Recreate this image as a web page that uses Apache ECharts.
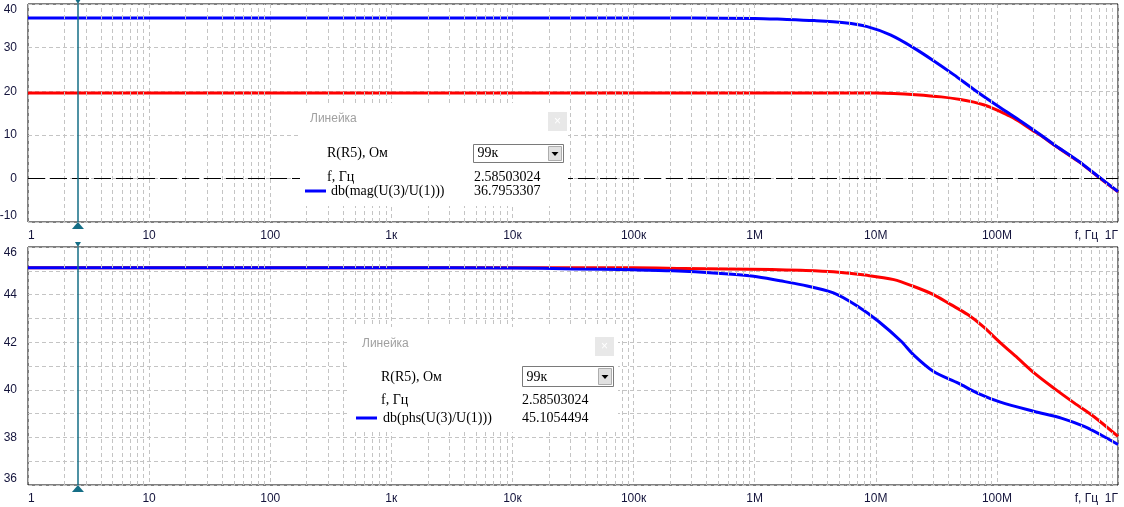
<!DOCTYPE html>
<html><head><meta charset="utf-8">
<script src="https://cdn.jsdelivr.net/npm/echarts@6/dist/echarts.min.js"></script>
<style>html,body{margin:0;padding:0;background:#fff}#c{width:1124px;height:507px}</style>
</head><body><div id="c"></div>
<script>
// x tick labels (decades 1 .. 1G)
const xTickLabels = ['1','10','100','1к','10к','100к','1М','10М','100М','f, Гц  1Г'];
const topYTicks = [-10, 0, 10, 20, 30, 40];
const bottomYTicks = [36, 38, 40, 42, 44, 46];
const minorMultipliers = [2,3,4,5,6,7,8,9];

// Top panel: db(mag(U(3)/U(1)))
const freqMagBlue = [1,10,100,1e3,1e4,1e5,1e6,1.7e6,3.1e6,5.5e6,8.5e6,1.32e7,2.04e7,3.0e7,4.4e7,6.76e7,1.07e8,1.6e8,2.29e8,2.95e8,4.7e8,6.76e8,1e9];
const magBlue     = [36.8,36.8,36.8,36.8,36.8,36.8,36.7,36.5,36.2,35.7,34.8,32.9,30.0,27.0,23.8,20.0,16.2,13.0,10.0,7.8,4.0,0.6,-3.0];
const freqMagRed  = [1,10,100,1e3,1e4,1e5,1e6,1e7,1.41e7,2.14e7,3.47e7,5.0e7,6.46e7,7.76e7,8.9e7,1.07e8,1.32e8,1.6e8,2.0e8,2.29e8,2.95e8,4.7e8,6.76e8,1e9];
const magRed      = [19.6,19.6,19.6,19.6,19.6,19.6,19.6,19.6,19.5,19.2,18.7,18.1,17.5,16.9,16.3,15.3,14.1,12.7,10.9,9.9,7.7,3.9,0.5,-3.1];

// Bottom panel: db(phs(U(3)/U(1)))
const freqPhBlue = [1,10,100,1e3,1e4,3.16e4,1e5,2.1e5,4.9e5,9.8e5,1.62e6,2.4e6,4.47e6,7.08e6,1.05e7,1.62e7,2.04e7,3.0e7,4.8e7,6.9e7,1.07e8,2.04e8,3.4e8,5.25e8,7.2e8,1e9];
const phBlue     = [45.13,45.13,45.13,45.13,45.12,45.08,45.04,45.0,44.9,44.77,44.58,44.42,44.07,43.51,42.88,42.04,41.48,40.77,40.28,39.86,39.48,39.09,38.81,38.46,38.11,37.7];
const freqPhRed  = [1,10,100,1e3,1e4,1e5,2.6e5,1.38e6,2.4e6,4.47e6,8.5e6,1.41e7,2.04e7,3.0e7,4.17e7,5.75e7,7.76e7,1.07e8,1.48e8,2.04e8,2.95e8,4.37e8,6.3e8,1e9];
const phRed      = [45.13,45.13,45.13,45.13,45.13,45.13,45.1,45.05,45.02,44.96,44.81,44.63,44.35,44.0,43.58,43.16,42.64,41.97,41.34,40.7,40.07,39.44,38.88,38.04];

const cursorF = 2.58503024;
const rulerTop = {param:'R(R5), Ом', sel:'99к', fLabel:'f, Гц', fVal:'2.58503024', name:'db(mag(U(3)/U(1)))', val:'36.7953307'};
const rulerBot = {param:'R(R5), Ом', sel:'99к', fLabel:'f, Гц', fVal:'2.58503024', name:'db(phs(U(3)/U(1)))', val:'45.1054494'};

const zip = (xs, ys) => xs.map((x, i) => [x, ys[i]]);
const minorGrid = [];
for (let k = 0; k < 9; k++) minorMultipliers.forEach(m => minorGrid.push(m * Math.pow(10, k)));

const labelColor = '#14143c';
const gridColor = '#c4c4c4';
const teal = '#156e86';

function xAxisCfg(idx) {
  return {
    type: 'log', logBase: 10, min: 1, max: 1e9, gridIndex: idx, splitNumber: 9,
    axisLine: {show: false}, axisTick: {show: false},
    axisLabel: {
      color: labelColor, fontFamily: 'Liberation Sans, Arial', fontSize: 12, margin: 8,
      alignMinLabel: 'left', alignMaxLabel: 'right',
      formatter: v => xTickLabels[Math.round(Math.log10(v))] || ''
    },
    splitLine: {show: true, lineStyle: {color: gridColor, type: [4, 3], width: 1}}
  };
}
function yAxisCfg(idx, min, max, interval, minor) {
  return {
    type: 'value', gridIndex: idx, min, max, interval,
    axisLine: {show: false}, axisTick: {show: false},
    axisLabel: {
      color: labelColor, fontFamily: 'Liberation Sans, Arial', fontSize: 12, margin: 11,
      verticalAlignMinLabel: 'bottom', verticalAlignMaxLabel: 'top'
    },
    splitLine: {show: true, lineStyle: {color: gridColor, type: [4, 3], width: 1}},
    minorTick: {show: false, splitNumber: minor},
    minorSplitLine: {show: minor > 1, lineStyle: {color: gridColor, type: [4, 3], width: 1}}
  };
}

function gridSeries(idx, extra) {
  return {
    type: 'line', xAxisIndex: idx, yAxisIndex: idx, data: [], z: 1, silent: true,
    markLine: {
      silent: true, symbol: 'none', animation: false, label: {show: false},
      lineStyle: {color: gridColor, type: [4, 3], width: 1},
      data: minorGrid.map(v => ({xAxis: v})).concat(extra)
    }
  };
}
function cursorSeries(idx, ymin, ymax) {
  return {
    type: 'line', xAxisIndex: idx, yAxisIndex: idx, data: [], z: 6, silent: true,
    markLine: {
      silent: true, symbol: 'none', animation: false, label: {show: false},
      lineStyle: {color: teal, type: 'solid', width: 1.5},
      data: [{xAxis: cursorF}]
    },
    markPoint: {
      silent: true, animation: false, label: {show: false},
      itemStyle: {color: teal},
      data: [
        {coord: [cursorF, ymin], symbol: 'triangle', symbolSize: [12, 7], symbolOffset: [0, 3.5]},
        {coord: [cursorF, ymax], symbol: 'triangle', symbolRotate: 180, symbolSize: [6, 5], symbolOffset: [0, -2.5]}
      ]
    }
  };
}
function curve(idx, xs, ys, color, z) {
  return {
    type: 'line', xAxisIndex: idx, yAxisIndex: idx, data: zip(xs, ys), z,
    smooth: 0.3, showSymbol: false, symbol: 'none', silent: true,
    lineStyle: {color, width: 3}, clip: true
  };
}

function ruler(box, r) {
  const els = [];
  const serif = '14px "Liberation Serif", "Times New Roman", serif';
  els.push({type: 'rect', shape: {x: box.x, y: box.y, width: box.w, height: box.h}, style: {fill: '#fff'}, z: 100});
  els.push({type: 'text', x: box.titleX, y: box.titleY, style: {text: 'Линейка', fill: '#a0a0a0', font: '12px "Liberation Sans", Arial', verticalAlign: 'middle'}, z: 101});
  els.push({type: 'rect', shape: {x: box.closeX, y: box.closeY, width: 19, height: 19}, style: {fill: '#e8e8e8'}, z: 101});
  els.push({type: 'text', x: box.closeX + 9.5, y: box.closeY + 9.5, style: {text: '×', fill: '#ffffff', font: '12px "Liberation Sans", Arial', align: 'center', verticalAlign: 'middle'}, z: 102});
  els.push({type: 'text', x: box.labX, y: box.row1, style: {text: r.param, fill: '#000', font: serif, verticalAlign: 'middle'}, z: 101});
  els.push({type: 'rect', shape: {x: box.ddX, y: box.ddY, width: box.ddW, height: box.ddH}, style: {fill: '#fff', stroke: '#7a7a7a', lineWidth: 1}, z: 101});
  els.push({type: 'rect', shape: {x: box.ddX + box.ddW - 15, y: box.ddY + 2, width: 13, height: box.ddH - 4}, style: {fill: '#e1e1e1', stroke: '#adadad', lineWidth: 1}, z: 102});
  const ax = box.ddX + box.ddW - 8.5, ay = box.ddY + box.ddH / 2;
  els.push({type: 'polygon', shape: {points: [[ax - 3.5, ay - 1.5], [ax + 3.5, ay - 1.5], [ax, ay + 2.5]]}, style: {fill: '#000'}, z: 103});
  els.push({type: 'text', x: box.ddX + 4, y: box.row1, style: {text: r.sel, fill: '#000', font: serif, verticalAlign: 'middle'}, z: 102});
  els.push({type: 'text', x: box.labX, y: box.row2, style: {text: r.fLabel, fill: '#000', font: serif, verticalAlign: 'middle'}, z: 101});
  els.push({type: 'text', x: box.valX, y: box.row2, style: {text: r.fVal, fill: '#000', font: serif, verticalAlign: 'middle'}, z: 101});
  els.push({type: 'line', shape: {x1: box.lineX1, y1: box.row3, x2: box.lineX2, y2: box.row3}, style: {stroke: '#0000ff', lineWidth: 3}, z: 101});
  els.push({type: 'text', x: box.nameX, y: box.row3, style: {text: r.name, fill: '#000', font: serif, verticalAlign: 'middle'}, z: 101});
  els.push({type: 'text', x: box.valX, y: box.row3, style: {text: r.val, fill: '#000', font: serif, verticalAlign: 'middle'}, z: 101});
  return els;
}

const box1 = {x: 300, y: 103, w: 268, h: 103, titleX: 310, titleY: 119, closeX: 548, closeY: 112,
  labX: 327, row1: 153, ddX: 473.5, ddY: 144.5, ddW: 90, ddH: 18, valX: 474, row2: 177, row3: 191,
  lineX1: 305, lineX2: 326, nameX: 331};
const box2 = {x: 348, y: 327, w: 270, h: 105, titleX: 362, titleY: 344, closeX: 595, closeY: 337,
  labX: 381, row1: 377, ddX: 522.5, ddY: 366.5, ddW: 91, ddH: 20, valX: 522, row2: 400, row3: 418,
  lineX1: 356, lineX2: 377, nameX: 383};

const chart = echarts.init(document.getElementById('c'), null, {renderer: 'canvas'});
chart.setOption({
  backgroundColor: '#fff',
  animation: false,
  grid: [
    {left: 28, right: 6, top: 4, height: 218, show: true, borderColor: '#000', borderWidth: 1, backgroundColor: 'transparent', containLabel: false, outerBoundsMode: 'none'},
    {left: 28, right: 6, top: 247, height: 238, show: true, borderColor: '#000', borderWidth: 1, backgroundColor: 'transparent', containLabel: false, outerBoundsMode: 'none'}
  ],
  xAxis: [xAxisCfg(0), xAxisCfg(1)],
  yAxis: [yAxisCfg(0, topYTicks[0], topYTicks[topYTicks.length - 1], 10, 1),
          yAxisCfg(1, bottomYTicks[0], bottomYTicks[bottomYTicks.length - 1], 2, 2)],
  series: [
    gridSeries(0, [{yAxis: 0, lineStyle: {color: '#000', type: [17, 5], width: 1}}]),
    gridSeries(1, []),
    curve(0, freqMagRed, magRed, '#ff0000', 3),
    curve(0, freqMagBlue, magBlue, '#0000ff', 4),
    curve(1, freqPhRed, phRed, '#ff0000', 3),
    curve(1, freqPhBlue, phBlue, '#0000ff', 4),
    cursorSeries(0, topYTicks[0], topYTicks[topYTicks.length - 1]),
    cursorSeries(1, bottomYTicks[0], bottomYTicks[bottomYTicks.length - 1])
  ],
  graphic: {elements: ruler(box1, rulerTop).concat(ruler(box2, rulerBot))}
});
</script>
</body></html>
